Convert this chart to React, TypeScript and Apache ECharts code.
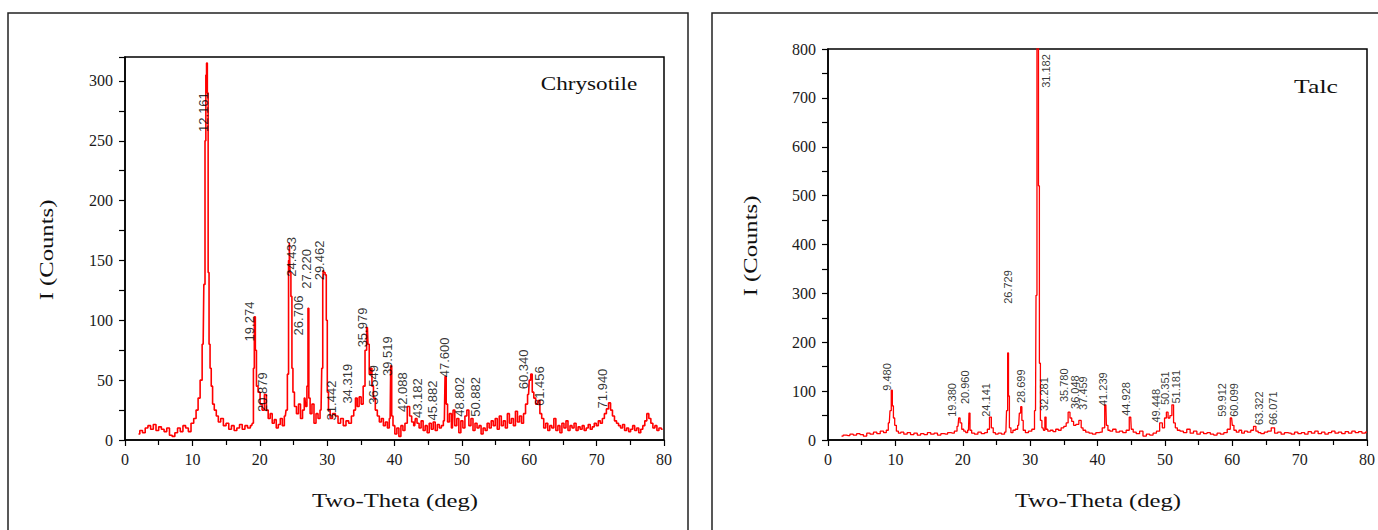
import React, { useEffect, useRef } from 'react';
import * as echarts from 'echarts';

// ---------- Chrysotile pattern (2θ, counts) ----------
const chrysotileData: [number, number][] = [
  [2.0, 5], [2.4, 8], [2.8, 6], [3.2, 10], [3.6, 12], [4.0, 9], [4.4, 13], [4.8, 8], [5.2, 11], [5.6, 9],
  [6.0, 7], [6.4, 10], [6.8, 4], [7.2, 3], [7.6, 6], [8.0, 10], [8.4, 7], [8.8, 12], [9.2, 10], [9.6, 7],
  [10.0, 14], [10.4, 18], [10.7, 25], [11.0, 35], [11.3, 50], [11.6, 80], [11.8, 130], [11.95, 250], [12.05, 305], [12.16, 315],
  [12.28, 290], [12.4, 140], [12.55, 80], [12.7, 60], [12.9, 45], [13.1, 30], [13.4, 25], [13.7, 20], [14.0, 15], [14.4, 18],
  [14.8, 12], [15.2, 14], [15.6, 9], [16.0, 12], [16.4, 8], [16.8, 10], [17.2, 13], [17.6, 9], [18.0, 12], [18.4, 10],
  [18.8, 12], [19.0, 14], [19.12, 60], [19.27, 103], [19.42, 75], [19.6, 45], [19.9, 40], [20.2, 30], [20.5, 25], [20.88, 38],
  [21.1, 25], [21.4, 18], [21.7, 22], [22.0, 14], [22.3, 17], [22.6, 10], [22.9, 13], [23.2, 18], [23.5, 12], [23.8, 20],
  [24.0, 25], [24.2, 55], [24.35, 150], [24.43, 165], [24.55, 140], [24.7, 120], [24.85, 60], [25.0, 40], [25.3, 28], [25.6, 22],
  [25.9, 30], [26.2, 18], [26.5, 25], [26.71, 35], [26.9, 28], [27.1, 45], [27.22, 110], [27.35, 35], [27.6, 22], [27.9, 30],
  [28.2, 14], [28.5, 22], [28.8, 18], [29.1, 25], [29.3, 60], [29.4, 135], [29.46, 142], [29.6, 140], [29.8, 138], [29.95, 100],
  [30.1, 40], [30.3, 25], [30.6, 18], [31.0, 22], [31.44, 20], [31.8, 14], [32.2, 18], [32.6, 12], [33.0, 16], [33.4, 14],
  [33.8, 20], [34.1, 25], [34.32, 35], [34.6, 28], [34.9, 36], [35.2, 30], [35.5, 45], [35.75, 75], [35.98, 94], [36.15, 80],
  [36.35, 55], [36.55, 60], [36.75, 45], [37.0, 35], [37.3, 25], [37.6, 20], [37.9, 15], [38.2, 18], [38.5, 12], [38.8, 15],
  [39.1, 10], [39.35, 18], [39.52, 62], [39.65, 20], [39.9, 12], [40.2, 5], [40.5, 10], [40.8, 3], [41.1, 12], [41.4, 8],
  [41.7, 14], [42.09, 28], [42.4, 20], [42.7, 15], [43.0, 12], [43.18, 18], [43.5, 14], [43.8, 10], [44.1, 16], [44.4, 8],
  [44.7, 12], [45.0, 6], [45.3, 14], [45.6, 9], [45.88, 15], [46.2, 8], [46.5, 13], [46.8, 10], [47.1, 12], [47.4, 16],
  [47.6, 53], [47.75, 30], [48.0, 15], [48.3, 22], [48.6, 10], [48.8, 25], [49.1, 12], [49.4, 18], [49.7, 6], [50.0, 16],
  [50.3, 10], [50.6, 20], [50.88, 25], [51.2, 12], [51.5, 18], [51.8, 8], [52.1, 14], [52.4, 10], [52.7, 12], [53.0, 5],
  [53.3, 10], [53.6, 8], [53.9, 14], [54.2, 10], [54.5, 16], [54.8, 12], [55.1, 18], [55.4, 9], [55.7, 20], [56.0, 12],
  [56.3, 16], [56.6, 10], [56.9, 22], [57.2, 14], [57.5, 18], [57.8, 12], [58.1, 24], [58.4, 15], [58.7, 20], [59.0, 14],
  [59.3, 22], [59.6, 30], [59.9, 38], [60.1, 50], [60.34, 55], [60.55, 40], [60.8, 35], [61.1, 30], [61.46, 33], [61.7, 22],
  [62.0, 18], [62.3, 10], [62.6, 14], [62.9, 8], [63.2, 12], [63.5, 10], [63.8, 18], [64.1, 8], [64.4, 12], [64.7, 6],
  [65.0, 14], [65.3, 10], [65.6, 16], [65.9, 8], [66.2, 12], [66.5, 10], [66.8, 14], [67.1, 8], [67.4, 11], [67.7, 9],
  [68.0, 12], [68.3, 8], [68.6, 10], [68.9, 13], [69.2, 9], [69.5, 11], [69.8, 14], [70.1, 12], [70.4, 16], [70.7, 14],
  [71.0, 18], [71.3, 22], [71.6, 26], [71.94, 31], [72.2, 25], [72.5, 20], [72.8, 16], [73.1, 14], [73.4, 12], [73.7, 10],
  [74.0, 13], [74.3, 8], [74.6, 10], [74.9, 7], [75.2, 9], [75.5, 12], [75.8, 8], [76.1, 10], [76.4, 6], [76.7, 9],
  [77.0, 12], [77.3, 16], [77.6, 22], [77.9, 18], [78.2, 14], [78.5, 10], [78.8, 12], [79.1, 8], [79.4, 10], [79.8, 9],
];

// peak annotations: text, and where the annotation sits (2θ, counts)
const chrysotilePeakText = ['12.161', '19.274', '20.879', '24.433', '26.706', '27.220', '29.462', '31.442', '34.319', '35.979', '36.549', '39.519', '42.088', '43.182', '45.882', '47.600', '48.802', '50.882', '60.340', '61.456', '71.940'];
const chrysotileLabelTheta = [11.65, 18.55, 20.48, 24.64, 25.68, 27.01, 28.94, 30.72, 32.95, 35.32, 36.81, 39.03, 41.26, 43.34, 45.57, 47.35, 49.72, 51.95, 59.22, 61.59, 70.8];
const chrysotileLabelLevel = [274, 99, 40, 153, 104, 143, 150, 33, 47, 94, 46, 70, 40, 35, 33, 69, 36, 36, 59, 45, 43];

// ---------- Talc pattern (2θ, counts) ----------
const talcData: [number, number][] = [
  [2.0, 8], [2.5, 10], [3.0, 9], [3.5, 12], [4.0, 10], [4.5, 13], [5.0, 11], [5.5, 8], [6.0, 14], [6.5, 12],
  [7.0, 16], [7.5, 13], [8.0, 18], [8.5, 15], [8.8, 20], [9.1, 35], [9.3, 60], [9.48, 102], [9.62, 70], [9.8, 45],
  [10.0, 30], [10.3, 18], [10.6, 14], [11.0, 16], [11.5, 12], [12.0, 15], [12.5, 11], [13.0, 14], [13.5, 10], [14.0, 13],
  [14.5, 11], [15.0, 15], [15.5, 12], [16.0, 14], [16.5, 10], [17.0, 13], [17.5, 12], [18.0, 15], [18.5, 14], [19.0, 18],
  [19.3, 28], [19.5, 45], [19.7, 35], [20.0, 22], [20.3, 18], [20.6, 15], [20.85, 20], [21.0, 55], [21.15, 20], [21.5, 14],
  [22.0, 12], [22.5, 16], [23.0, 13], [23.5, 15], [23.8, 22], [24.14, 47], [24.35, 25], [24.7, 15], [25.0, 12], [25.5, 14],
  [26.0, 12], [26.4, 16], [26.6, 60], [26.73, 178], [26.85, 90], [27.0, 25], [27.3, 15], [27.6, 20], [28.0, 22], [28.3, 30],
  [28.5, 55], [28.7, 68], [28.85, 40], [29.1, 20], [29.5, 15], [30.0, 18], [30.5, 22], [30.8, 60], [30.95, 296], [31.08, 820],
  [31.18, 820], [31.3, 520], [31.45, 157], [31.6, 40], [31.9, 25], [32.1, 20], [32.28, 47], [32.45, 22], [32.8, 18], [33.2, 20],
  [33.6, 17], [34.0, 22], [34.4, 20], [34.8, 25], [35.2, 28], [35.5, 35], [35.78, 57], [36.05, 45], [36.3, 38], [36.6, 30],
  [37.0, 32], [37.46, 40], [37.7, 25], [38.0, 20], [38.5, 16], [39.0, 14], [39.5, 12], [40.0, 15], [40.5, 16], [40.9, 25],
  [41.24, 72], [41.4, 30], [41.7, 20], [42.0, 18], [42.5, 22], [43.0, 16], [43.5, 18], [44.0, 15], [44.5, 20], [44.93, 47],
  [45.1, 22], [45.5, 16], [46.0, 13], [46.5, 18], [47.0, 8], [47.5, 12], [48.0, 10], [48.5, 14], [49.0, 18], [49.45, 35],
  [49.8, 25], [50.1, 45], [50.35, 57], [50.6, 45], [50.9, 50], [51.18, 72], [51.4, 35], [51.7, 25], [52.0, 20], [52.5, 18],
  [53.0, 15], [53.5, 22], [54.0, 14], [54.5, 18], [55.0, 12], [55.5, 16], [56.0, 13], [56.5, 15], [57.0, 12], [57.5, 10],
  [58.0, 14], [58.5, 12], [59.0, 15], [59.5, 22], [59.91, 45], [60.1, 30], [60.4, 20], [60.8, 16], [61.2, 20], [61.6, 14],
  [62.0, 18], [62.5, 16], [63.0, 20], [63.32, 28], [63.7, 18], [64.0, 15], [64.5, 13], [65.0, 16], [65.5, 18], [66.07, 25],
  [66.5, 14], [67.0, 16], [67.5, 12], [68.0, 15], [68.5, 14], [69.0, 12], [69.5, 16], [70.0, 13], [70.5, 15], [71.0, 12],
  [71.5, 17], [72.0, 14], [72.5, 18], [73.0, 13], [73.5, 16], [74.0, 12], [74.5, 15], [75.0, 18], [75.5, 14], [76.0, 16],
  [76.5, 13], [77.0, 17], [77.5, 14], [78.0, 18], [78.5, 15], [79.0, 17], [79.5, 14], [80.0, 16],
];

const talcPeakText = ['9.480', '19.380', '20.960', '24.141', '26.729', '28.699', '31.182', '32.281', '35.780', '36.048', '37.459', '41.239', '44.928', '49.448', '50.351', '51.181', '59.912', '60.099', '63.322', '66.071'];
const talcLabelTheta = [8.75, 18.37, 20.3, 23.4, 26.67, 28.6, 32.3, 32.0, 35.1, 36.7, 37.8, 40.8, 44.27, 48.7, 49.95, 51.67, 58.5, 60.3, 64.03, 66.0];
const talcLabelLevel = [129, 82, 108, 82, 313, 110, 755, 94, 112, 98, 96, 104, 84, 70, 106, 109, 82, 82, 65, 65];

const xTickValues = [0, 10, 20, 30, 40, 50, 60, 70, 80];

const SERIF = '"Liberation Serif", "Times New Roman", serif';
const SANS = '"Liberation Sans", Arial, sans-serif';

function makeXAxis(gridIndex: number) {
  return {
    type: 'value',
    gridIndex,
    min: xTickValues[0],
    max: xTickValues[xTickValues.length - 1],
    interval: 10,
    axisLine: { show: true, lineStyle: { color: '#000', width: 1.5 } },
    axisTick: { show: true, length: 6, lineStyle: { color: '#000', width: 1.2 } },
    minorTick: { show: true, splitNumber: 2, length: 5, lineStyle: { color: '#000', width: 1.2 } },
    axisLabel: { color: '#1a1a1a', fontFamily: SERIF, fontSize: 16, margin: 11 },
    splitLine: { show: false },
  };
}

function makeYAxis(gridIndex: number, max: number, interval: number) {
  return {
    type: 'value',
    gridIndex,
    min: 0,
    max,
    interval,
    axisLine: { show: true, lineStyle: { color: '#000', width: 1.5 } },
    axisTick: { show: true, length: 6, lineStyle: { color: '#000', width: 1.2 } },
    minorTick: { show: true, splitNumber: 2, length: 6, lineStyle: { color: '#000', width: 1.2 } },
    axisLabel: {
      color: '#1a1a1a', fontFamily: SERIF, fontSize: 16, margin: 12,
      formatter: (v: number) => (v % interval === 0 ? String(v) : ''),
    },
    splitLine: { show: false },
  };
}

function labelSeries(theta: number[], level: number[], text: string[], axisIndex: number, fontSize: number) {
  return {
    type: 'scatter',
    xAxisIndex: axisIndex,
    yAxisIndex: axisIndex,
    symbolSize: 1,
    itemStyle: { color: 'rgba(0,0,0,0)' },
    silent: true,
    z: 5,
    data: theta.map((t, i) => ({
      value: [t, level[i]],
      label: {
        show: true,
        position: 'inside',
        rotate: 90,
        formatter: text[i],
        color: '#000',
        fontSize,
        fontFamily: SANS,
      },
    })),
  };
}

export default function App() {
  const ref = useRef<HTMLDivElement>(null);
  useEffect(() => {
    if (!ref.current) return;
    const chart = echarts.init(ref.current, undefined, { renderer: 'svg' });
    const textStyle = (t: string, size: number) => ({
      text: t,
      font: `${size}px ${SERIF}`,
      fill: '#111',
      textAlign: 'center',
      align: 'center',
      textVerticalAlign: 'middle',
      verticalAlign: 'middle',
    });
    chart.setOption({
      animation: false,
      backgroundColor: '#fff',
      grid: [
        { left: 125, top: 57, width: 539, height: 383, show: true, borderColor: '#000', borderWidth: 1.5, backgroundColor: 'transparent' },
        { left: 828, top: 49, width: 540, height: 391, show: true, borderColor: '#000', borderWidth: 1.5, backgroundColor: 'transparent' },
      ],
      xAxis: [makeXAxis(0), makeXAxis(1)],
      yAxis: [makeYAxis(0, 320, 50), makeYAxis(1, 800, 100)],
      series: [
        {
          type: 'line', xAxisIndex: 0, yAxisIndex: 0, data: chrysotileData, step: 'middle',
          symbol: 'none', lineStyle: { color: '#ff0000', width: 1.6 }, clip: true,
        },
        {
          type: 'line', xAxisIndex: 1, yAxisIndex: 1, data: talcData, step: 'middle',
          symbol: 'none', lineStyle: { color: '#ff0000', width: 1.3 }, clip: true,
        },
        labelSeries(chrysotileLabelTheta, chrysotileLabelLevel, chrysotilePeakText, 0, 13),
        labelSeries(talcLabelTheta, talcLabelLevel, talcPeakText, 1, 11),
      ],
      graphic: [
        { type: 'rect', shape: { x: 8, y: 13, width: 680, height: 540 }, style: { fill: 'none', stroke: '#222', lineWidth: 1.5 }, silent: true },
        { type: 'rect', shape: { x: 712, y: 13, width: 700, height: 540 }, style: { fill: 'none', stroke: '#222', lineWidth: 1.5 }, silent: true },
        { type: 'text', x: 589, y: 84, scaleX: 1.22, style: textStyle('Chrysotile', 19) },
        { type: 'text', x: 1316, y: 87, scaleX: 1.35, style: textStyle('Talc', 19) },
        { type: 'text', x: 395, y: 501, scaleX: 1.3, style: textStyle('Two-Theta (deg)', 19) },
        { type: 'text', x: 1098, y: 501, scaleX: 1.3, style: textStyle('Two-Theta (deg)', 19) },
        { type: 'text', x: 47, y: 250, rotation: Math.PI / 2, scaleX: 1.3, style: textStyle('I (Counts)', 19) },
        { type: 'text', x: 751, y: 246, rotation: Math.PI / 2, scaleX: 1.3, style: textStyle('I (Counts)', 19) },
      ],
    });
    return () => chart.dispose();
  }, []);
  return (
    <div
      ref={ref}
      style={{ position: 'fixed', left: 0, top: 0, width: 1378, height: 530 }}
    />
  );
}
